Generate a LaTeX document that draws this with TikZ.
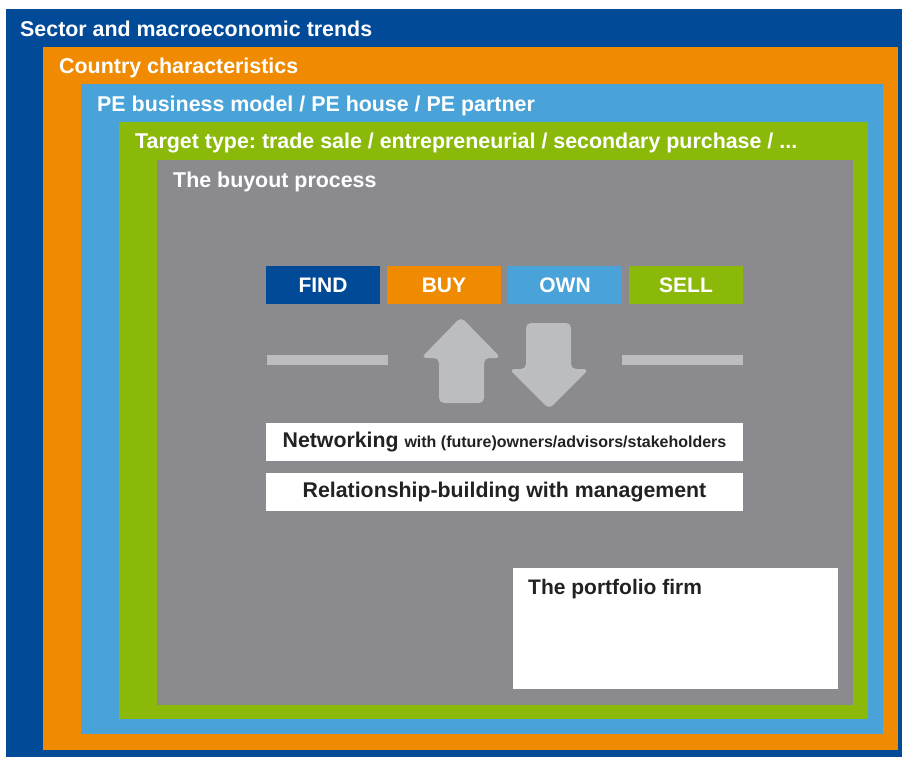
\documentclass[tikz,border=0pt]{standalone}
\usepackage{fontspec}
\setmainfont{Liberation Sans}
\frenchspacing
\definecolor{dblue}{HTML}{004A98}
\definecolor{orng}{HTML}{F08A00}
\definecolor{lblue}{HTML}{4AA3D8}
\definecolor{lgreen}{HTML}{8AB90A}
\definecolor{mgrey}{HTML}{8B8A8F}
\definecolor{agrey}{HTML}{BCBDC1}
\definecolor{txtdark}{HTML}{222222}
\begin{document}
\begin{tikzpicture}[x=1pt,y=-1pt,
  layer/.style={inner sep=0pt, outer sep=0pt, anchor=north west},
  title/.style={anchor=west, inner sep=0pt, text=white, font=\fontsize{21.4}{24}\selectfont\bfseries},
  phase/.style={inner sep=0pt, minimum width=114pt, minimum height=38pt, text=white, font=\fontsize{21}{24}\selectfont\bfseries},
  wbox/.style={inner sep=0pt, fill=white, minimum width=477pt, minimum height=38pt, text=txtdark},
  bar/.style={fill=agrey},
  bigarrow/.style={fill=agrey, rounded corners=5pt}
]
\useasboundingbox (0,0) rectangle (902,757);
% nested layers
\node[layer, fill=dblue, minimum width=896pt, minimum height=748pt] (sector) at (6,9) {};
\node[layer, fill=orng, minimum width=855pt, minimum height=703pt] (country) at (43,47) {};
\node[layer, fill=lblue, minimum width=802pt, minimum height=650pt] (pemodel) at (81,84) {};
\node[layer, fill=lgreen, minimum width=749pt, minimum height=597pt] (target) at (119,122) {};
\node[layer, fill=mgrey, minimum width=696pt, minimum height=545pt] (buyout) at (157,160) {};
% titles
\node[title] (t1) at (20,29) {Sector and macroeconomic trends};
\node[title] (t2) at (59,67.5) {Country characteristics};
\node[title] (t3) at (97,105.5) {PE business model / PE house / PE partner};
\node[title] (t4) at (135,143.5) {Target type: trade sale / entrepreneurial / secondary purchase / ...};
\node[title] (t5) at (173,181.5) {The buyout process};
% phases
\node[phase, fill=dblue] (find) at (323,285) {FIND};
\node[phase, fill=orng] (buy) at (444,285) {BUY};
\node[phase, fill=lblue] (own) at (565,285) {OWN};
\node[phase, fill=lgreen] (sell) at (686,285) {SELL};
% bars
\fill[bar] (267,355) rectangle (388,365);
\fill[bar] (622,355) rectangle (743,365);
% arrows
\fill[bigarrow] (461,317) -- (501,358) -- (484,358) -- (484,403) -- (439,403) -- (439,358) -- (421,358) -- cycle;
\fill[bigarrow] (526,323) -- (571,323) -- (571,369) -- (589,369) -- (549,409) -- (509,369) -- (526,369) -- cycle;
% white boxes
\node[wbox] (network) at (504.5,442) {\raisebox{-2pt}{\bfseries\fontsize{21.3}{24}\selectfont Networking \fontsize{16}{19}\selectfont with (future)owners/advisors/stakeholders}};
\node[wbox] (relation) at (504.5,492) {\raisebox{-2pt}{\bfseries\fontsize{21.3}{24}\selectfont Relationship-building with management}};
\node[layer, fill=white, minimum width=325pt, minimum height=121pt] (portfolio) at (513,568) {};
\node[anchor=west, inner sep=0pt, text=txtdark, font=\fontsize{21}{24}\selectfont\bfseries] (ptext) at (528,589.5) {The portfolio firm};
\end{tikzpicture}
\end{document}
